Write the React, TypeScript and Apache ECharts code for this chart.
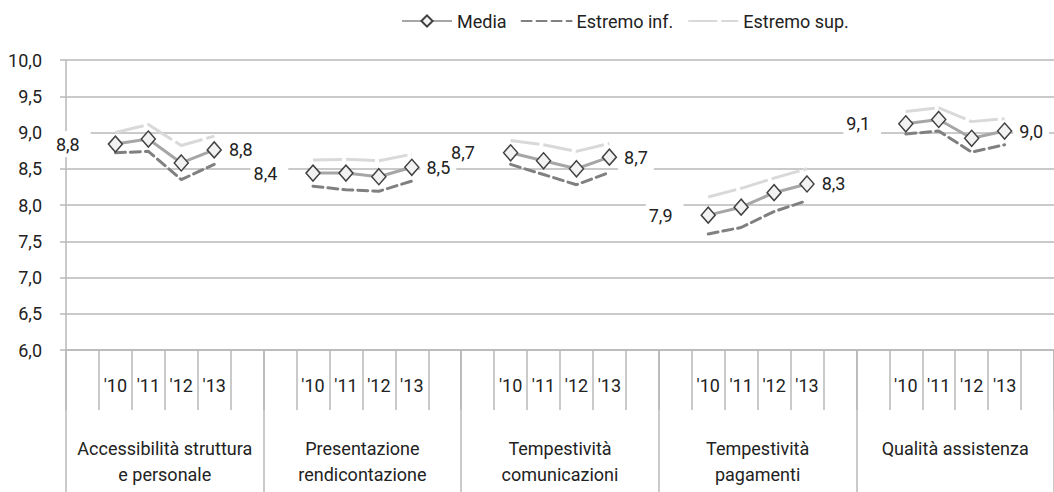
import React, { useEffect, useRef } from "react";
import * as echarts from "echarts";

const groups = [
  "Accessibilità struttura\ne personale",
  "Presentazione\nrendicontazione",
  "Tempestività\ncomunicazioni",
  "Tempestività\npagamenti",
  "Qualità assistenza",
];
const years = ["'10", "'11", "'12", "'13"];

const media = [
  [8.84, 8.91, 8.58, 8.76],
  [8.44, 8.44, 8.39, 8.52],
  [8.72, 8.61, 8.5, 8.66],
  [7.86, 7.97, 8.17, 8.29],
  [9.12, 9.18, 8.92, 9.02],
];
const estremoInf = [
  [8.72, 8.74, 8.35, 8.56],
  [8.26, 8.21, 8.19, 8.33],
  [8.56, 8.42, 8.28, 8.45],
  [7.6, 7.69, 7.91, 8.06],
  [8.98, 9.02, 8.73, 8.83],
];
const estremoSup = [
  [9.0, 9.11, 8.82, 8.95],
  [8.62, 8.63, 8.61, 8.7],
  [8.89, 8.83, 8.74, 8.85],
  [8.11, 8.23, 8.37, 8.5],
  [9.29, 9.34, 9.15, 9.19],
];
const yMin = 6;
const yMax = 10;
const yStep = 0.5;

const FONT = "Roboto";
const TEXT = "#222222";
const GRID = "#b9b9b9";

const fmt = (v: number) => v.toFixed(1).replace(".", ",");

export default function App() {
  const ref = useRef<HTMLDivElement>(null);

  useEffect(() => {
    if (!ref.current) return;
    const chart = echarts.init(ref.current, null, { renderer: "svg" });

    const categories: string[] = [];
    groups.forEach(() => {
      categories.push("");
      years.forEach((y) => categories.push(y));
      categories.push("");
    });

    const flat = (arr: number[][], withLabels: boolean) => {
      const out: any[] = [];
      arr.forEach((g) => {
        out.push(null);
        g.forEach((v, j) => {
          if (withLabels && (j === 0 || j === g.length - 1)) {
            const left = j === 0;
            out.push({
              value: v,
              label: {
                show: true,
                position: left ? "left" : "right",
                distance: left ? 17 : 1,
                padding: left ? [4, 11, 4, 3] : [4, 6, 4, 6],
                backgroundColor: "#ffffff",
                formatter: (p: any) => fmt(p.value),
                color: TEXT,
                fontSize: 18,
                fontFamily: FONT,
              },
            });
          } else {
            out.push(v);
          }
        });
        out.push(null);
      });
      return out;
    };

    const hiddenSymbol = { color: "rgba(0,0,0,0)", borderWidth: 0, opacity: 0 };

    chart.setOption({
      animation: false,
      backgroundColor: "#ffffff",
      textStyle: { fontFamily: FONT },
      legend: {
        left: 396,
        top: 7,
        itemWidth: 50,
        itemHeight: 14,
        itemGap: 14,
        data: [
          { name: "Media" },
          { name: "Estremo inf.", itemStyle: hiddenSymbol },
          { name: "Estremo sup.", itemStyle: hiddenSymbol },
        ],
        textStyle: { color: TEXT, fontSize: 18, fontFamily: FONT },
      },
      grid: { left: 66, top: 60, width: 990, height: 290, containLabel: false },
      xAxis: [
        {
          type: "category",
          data: categories,
          boundaryGap: true,
          position: "bottom",
          axisLine: { show: true, lineStyle: { color: GRID, width: 1.5 } },
          axisTick: { show: true, interval: 0, length: 60, lineStyle: { color: GRID, width: 1.5 } },
          axisLabel: {
            interval: 0,
            margin: 26,
            color: TEXT,
            fontSize: 18,
            fontFamily: FONT,
          },
          splitLine: { show: false },
        },
        {
          type: "category",
          data: groups,
          boundaryGap: true,
          position: "bottom",
          axisLine: { show: false },
          axisTick: { show: true, interval: 0, length: 142, lineStyle: { color: GRID, width: 1.5 } },
          axisLabel: {
            interval: 0,
            margin: 85,
            color: TEXT,
            fontSize: 18,
            lineHeight: 26,
            fontFamily: FONT,
          },
          splitLine: { show: false },
        },
      ],
      yAxis: {
        type: "value",
        min: yMin,
        max: yMax,
        interval: yStep,
        axisLine: { show: true, lineStyle: { color: GRID, width: 1.5 } },
        axisTick: { show: true, length: 6, lineStyle: { color: GRID, width: 1.5 } },
        axisLabel: {
          margin: 24,
          color: TEXT,
          fontSize: 18,
          fontFamily: FONT,
          formatter: (v: number) => fmt(v),
        },
        splitLine: { show: true, lineStyle: { color: GRID, width: 1.5 } },
      },
      series: [
        {
          name: "Estremo sup.",
          type: "line",
          xAxisIndex: 0,
          data: flat(estremoSup, false),
          symbol: "none",
          connectNulls: false,
          lineStyle: { color: "#d9d9d9", width: 3, type: [29, 4] },
          itemStyle: { color: "#d9d9d9" },
        },
        {
          name: "Estremo inf.",
          type: "line",
          xAxisIndex: 0,
          data: flat(estremoInf, false),
          symbol: "none",
          connectNulls: false,
          lineStyle: { color: "#808080", width: 3, type: [10, 5], cap: "round" },
          itemStyle: { color: "#808080" },
        },
        {
          name: "Media",
          type: "line",
          xAxisIndex: 0,
          data: flat(media, true),
          symbol: "diamond",
          symbolSize: [14, 16],
          showSymbol: true,
          connectNulls: false,
          lineStyle: { color: "#a6a6a6", width: 3 },
          itemStyle: { color: "#f2f2f2", borderColor: "#404040", borderWidth: 1.5 },
          z: 3,
        },
      ],
    });

    return () => chart.dispose();
  }, []);

  return (
    <div
      ref={ref}
      style={{ position: "fixed", left: 0, top: 0, width: 1054, height: 492 }}
    />
  );
}
